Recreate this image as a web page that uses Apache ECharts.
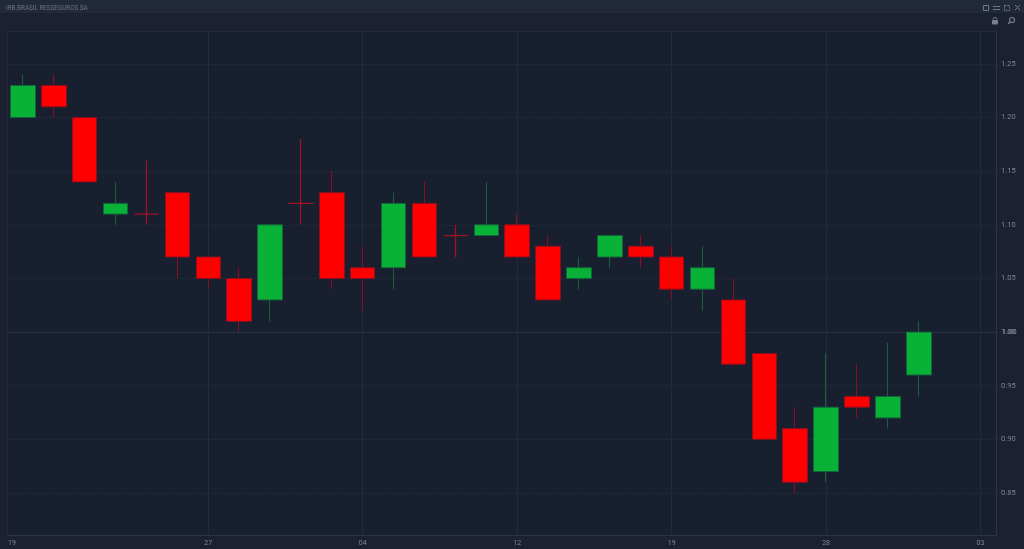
<!DOCTYPE html>
<html><head><meta charset="utf-8">
<style>html,body{margin:0;padding:0;background:#1b2130}#c{width:1024px;height:549px}</style>
<script src="https://cdn.jsdelivr.net/npm/echarts@6/dist/echarts.min.js"></script>
</head><body><div id="c"></div>
<script>
const title = 'IRB BRASIL RESSEGUROS SA';
const dateLabels = ['19','','','','','','27','','','','','04','','','','','12','','','','','19','','','','','28','','','','','03'];
const opens  = [1.20,1.23,1.20,1.11,1.11,1.13,1.07,1.05,1.03,1.12,1.13,1.06,1.06,1.12,1.09,1.09,1.10,1.08,1.05,1.07,1.08,1.07,1.04,1.03,0.98,0.91,0.87,0.94,0.92,0.96];
const closes = [1.23,1.21,1.14,1.12,1.11,1.07,1.05,1.01,1.10,1.12,1.05,1.05,1.12,1.07,1.09,1.10,1.07,1.03,1.06,1.09,1.07,1.04,1.06,0.97,0.90,0.86,0.93,0.93,0.94,1.00];
const lows   = [1.20,1.20,1.14,1.10,1.10,1.05,1.04,1.00,1.01,1.10,1.04,1.02,1.04,1.07,1.07,1.09,1.07,1.03,1.04,1.06,1.06,1.03,1.02,0.97,0.90,0.85,0.86,0.92,0.91,0.94];
const highs  = [1.24,1.24,1.20,1.14,1.16,1.13,1.07,1.06,1.10,1.18,1.15,1.08,1.13,1.14,1.10,1.14,1.11,1.09,1.07,1.09,1.09,1.08,1.08,1.05,0.98,0.93,0.98,0.97,0.99,1.01];
const priceTicks = [0.85,0.90,0.95,1.00,1.05,1.10,1.15,1.20,1.25];
const lastPrice = 1.00;

const muted = '#7f8798', lineC = '#232a39', frame = '#2d3445';
const wickRed = '#8a0f20', wickGreen = '#14633c', dojiRed = '#a01226';
const candles = opens.map((o,i)=>{
  const value=[o,closes[i],lows[i],highs[i]];
  return o===closes[i] ? {value,itemStyle:{borderColor:dojiRed,borderColor0:dojiRed,borderColorDoji:dojiRed,borderWidth:1.3}} : {value};
});
const iconStyle = {stroke:'#6f7889',fill:'none',lineWidth:1};
const chart = echarts.init(document.getElementById('c'),null,{renderer:'canvas'});
chart.setOption({
  animation:false,
  backgroundColor:'#1b2130',
  title:{text:title,left:6,top:5,padding:0,textStyle:{color:'#6c7487',fontSize:6.3,fontWeight:'normal',fontFamily:'Roboto'}},
  graphic:[
    {type:'rect',z:-1,silent:true,shape:{x:0,y:0,width:1024,height:13},style:{fill:'#222938'}},
    {type:'rect',z:0,silent:true,shape:{x:7.5,y:32,width:988.5,height:503},style:{fill:'#181f2e'}},
    {type:'rect',shape:{x:983.5,y:5.5,width:5,height:5},style:iconStyle},
    {type:'line',shape:{x1:993,y1:6.5,x2:1000,y2:6.5},style:iconStyle},
    {type:'line',shape:{x1:993,y1:9.5,x2:1000,y2:9.5},style:iconStyle},
    {type:'rect',shape:{x:1004.5,y:5.5,width:5,height:5},style:{stroke:'#6f7889',fill:'none',lineWidth:1,lineDash:[2,1]}},
    {type:'line',shape:{x1:1015,y1:5,x2:1020,y2:10},style:iconStyle},
    {type:'line',shape:{x1:1020,y1:5,x2:1015,y2:10},style:iconStyle},
    {type:'rect',shape:{x:992.5,y:20.5,width:5,height:3.5},style:{stroke:'#787f92',fill:'#787f92',lineWidth:1}},
    {type:'arc',shape:{cx:995,cy:19.5,r:2,startAngle:Math.PI,endAngle:0},style:{stroke:'#787f92',fill:'none',lineWidth:1}},
    {type:'circle',shape:{cx:1012,cy:20,r:2.5},style:{stroke:'#787f92',fill:'none',lineWidth:1.2}},
    {type:'line',shape:{x1:1010,y1:22,x2:1008,y2:24},style:{stroke:'#787f92',lineWidth:1.2}}
  ],
  grid:{left:7.5,right:28,top:32,bottom:14,show:true,borderColor:frame,borderWidth:1,backgroundColor:'transparent'},
  xAxis:{
    type:'category',data:dateLabels,boundaryGap:true,
    axisLine:{lineStyle:{color:frame}},axisTick:{show:false},
    axisLabel:{color:muted,fontSize:7,fontFamily:'Roboto',margin:5,interval:(i,v)=>v!=='',alignMinLabel:'right',
      formatter:(v,i)=>i===0?'{first|'+v+'}':v,
      rich:{first:{color:muted,fontSize:7,fontFamily:'Roboto',padding:[0,7,0,0]}}},
    splitLine:{show:true,alignWithLabel:true,interval:(i,v)=>v!==''&&i>0,lineStyle:{color:lineC,width:1}}
  },
  yAxis:{
    type:'value',position:'right',min:0.8108,max:1.2798,scale:true,
    axisLine:{show:true,lineStyle:{color:frame}},axisTick:{show:false,customValues:priceTicks},
    axisLabel:{color:muted,fontSize:7.5,fontFamily:'Roboto',margin:5,customValues:priceTicks,formatter:v=>v.toFixed(2),showMinLabel:true,showMaxLabel:true},
    splitLine:{show:true,lineStyle:{color:lineC,width:1,type:[2,1]}}
  },
  series:[{
    type:'candlestick',data:candles,barWidth:25,z:3,
    itemStyle:{color:'#08b236',color0:'#ff0000',borderColor:wickGreen,borderColor0:wickRed,borderColorDoji:wickRed,borderWidth:1},
    markLine:{silent:true,symbol:'none',animation:false,z:1,
      data:[{yAxis:lastPrice}],
      lineStyle:{color:'#293041',type:'solid',width:1},
      label:{show:true,position:'end',distance:6,color:muted,fontSize:7.5,fontFamily:'Roboto',formatter:()=>lastPrice.toFixed(2)}}
  }]
});
</script></body></html>
